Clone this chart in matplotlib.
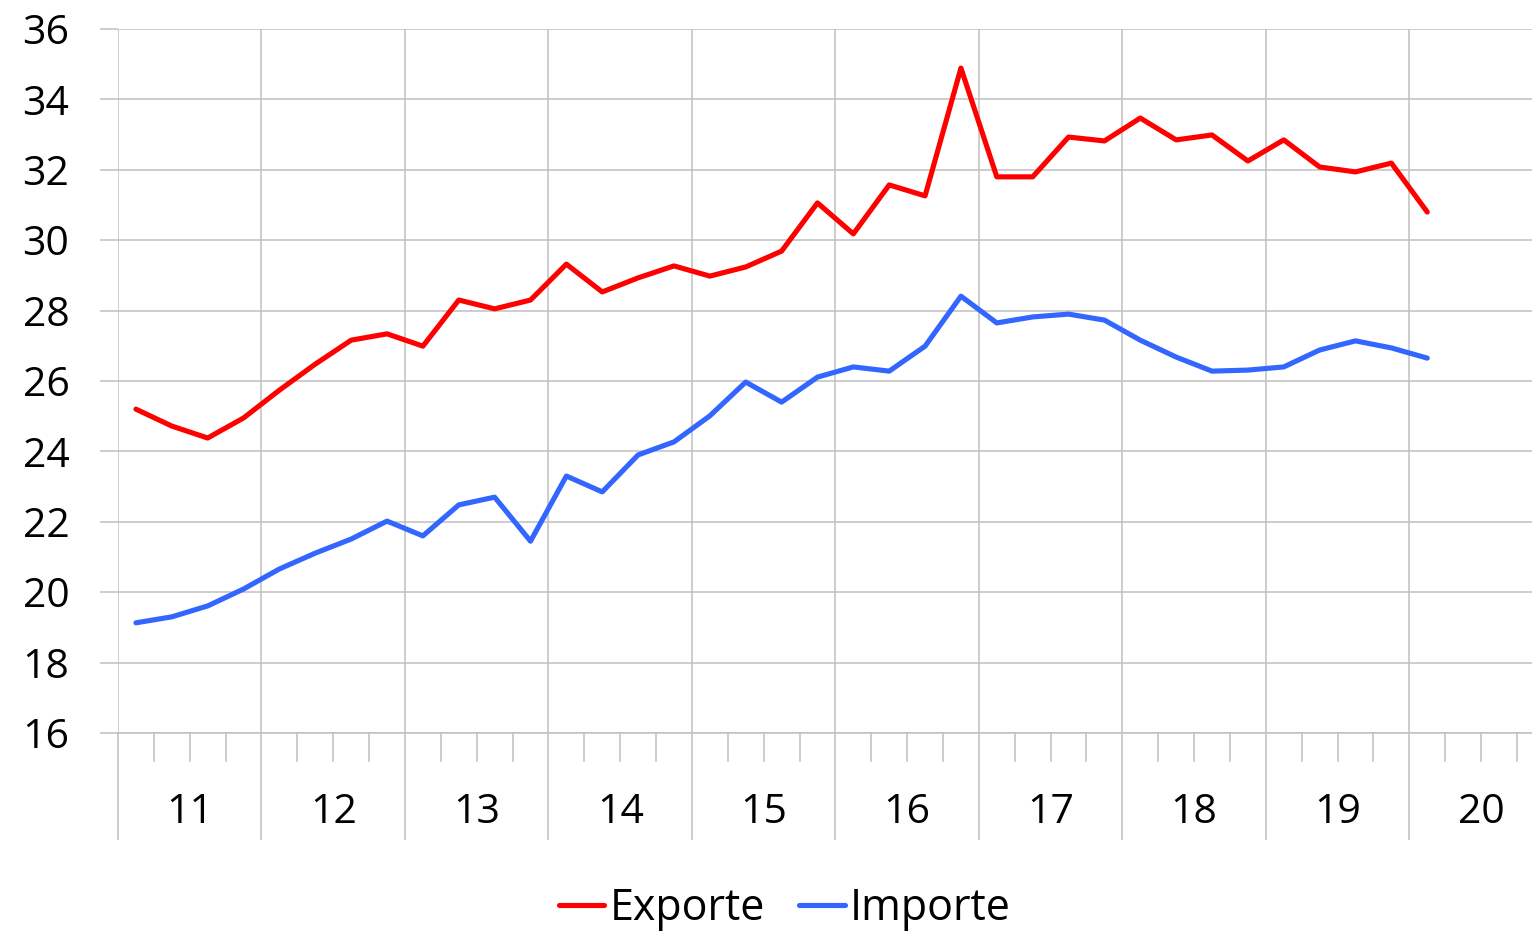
import numpy as np
import matplotlib
matplotlib.use("Agg")
import matplotlib.pyplot as plt

# Quarterly values, 2011 Q1 - 2020 Q1
years = ["11", "12", "13", "14", "15", "16", "17", "18", "19", "20"]
exporte = [25.20, 24.72, 24.38, 24.95, 25.74, 26.48, 27.16, 27.34, 26.99,
           28.30, 28.05, 28.30, 29.32, 28.53, 28.93, 29.27, 28.98, 29.24,
           29.69, 31.06, 30.18, 31.57, 31.26, 34.89, 31.80, 31.80, 32.93,
           32.82, 33.47, 32.85, 32.99, 32.25, 32.85, 32.08, 31.94, 32.19,
           30.80]
importe = [19.13, 19.30, 19.61, 20.09, 20.66, 21.11, 21.51, 22.02, 21.60,
           22.48, 22.70, 21.45, 23.30, 22.85, 23.90, 24.27, 25.01, 25.97,
           25.40, 26.11, 26.40, 26.28, 26.99, 28.41, 27.65, 27.82, 27.90,
           27.73, 27.16, 26.68, 26.28, 26.31, 26.40, 26.88, 27.14, 26.94,
           26.65]
y_ticks = [16, 18, 20, 22, 24, 26, 28, 30, 32, 34, 36]

plt.rcParams["font.family"] = ["Open Sans", "DejaVu Sans"]
FS = 29.5

W, H, DPI = 1532, 934, 100
fig = plt.figure(figsize=(W / DPI, H / DPI), dpi=DPI)
ax = fig.add_axes([118 / W, 1 - 733 / H, (W - 118) / W, (733 - 29) / H])

GRID = "#c0c0c0"
x = np.arange(len(exporte))
ax.plot(x, exporte, color="#ff0000", lw=3.7, label="Exporte",
        solid_joinstyle="round", solid_capstyle="round", zorder=3)
ax.plot(x, importe, color="#3366ff", lw=3.7, label="Importe",
        solid_joinstyle="round", solid_capstyle="round", zorder=3)

# y axis
ax.set_yticks(y_ticks)
ax.tick_params(axis="y", length=18 * 0.72, width=1.1, color=GRID,
               labelsize=FS, pad=22)
ax.yaxis.grid(True, color=GRID, lw=1.1)

# x axis: year boundaries (major), quarter boundaries (minor)
n_years = len(years)
year_bounds = [-0.5 + 4 * k for k in range(n_years + 1)]
quarter_bounds = [-0.5 + q for q in range(4 * n_years) if q % 4 != 0]
ax.set_xticks(year_bounds)
ax.set_xticks(quarter_bounds, minor=True)
ax.tick_params(axis="x", which="major", length=107 * 0.72, width=1.1,
               color=GRID, labelbottom=False)
ax.tick_params(axis="x", which="minor", length=29 * 0.72, width=1.1,
               color=GRID)
ax.xaxis.grid(True, which="major", color=GRID, lw=1.1)

# the reference is cropped at the right, inside the 2020 block
px_q = 35.87
ax.set_xlim(-0.5, -0.5 + (W - 118) / px_q)
ax.set_ylim(16, 36)

for k, lab in enumerate(years):
    ax.text(-0.5 + 4 * k + 2, -0.113, lab, transform=ax.get_xaxis_transform(),
            ha="center", va="center", fontsize=FS)

for side in ["left", "right", "top"]:
    ax.spines[side].set_visible(False)
ax.spines["bottom"].set_color(GRID)
ax.spines["bottom"].set_linewidth(1.1)
ax.set_axisbelow(True)

fig.legend(loc="center", bbox_to_anchor=(785 / W, 1 - 909 / H), ncol=2,
           frameon=False, fontsize=31, handlelength=1.05, handletextpad=0.12,
           columnspacing=0.8)

fig.savefig("out.png", dpi=DPI)
